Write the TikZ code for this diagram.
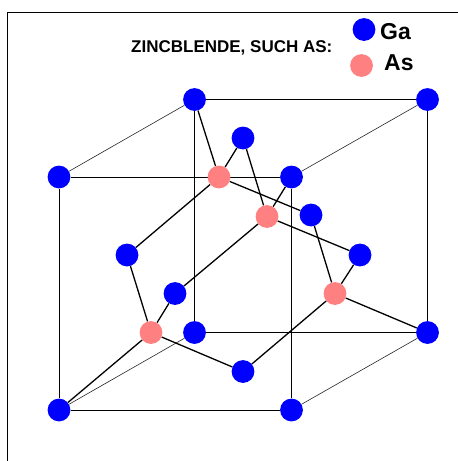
\documentclass[tikz,border=0pt]{standalone}
\usepackage{fontspec}
\setmainfont{Liberation Sans}
\usetikzlibrary{backgrounds}
\definecolor{gablue}{RGB}{0,0,255}
\definecolor{aspink}{RGB}{255,128,128}
\tikzset{
  ga/.style={circle,fill=gablue,draw=none,inner sep=0pt,minimum size=22.8pt},
  as/.style={circle,fill=aspink,draw=none,inner sep=0pt,minimum size=22.8pt},
  bond/.style={draw=black,line width=1.3pt},
  cube/.style={draw=black,line width=0.95pt},
  depth/.style={draw=black!85,line width=0.6pt},
  frameline/.style={draw=black,line width=1pt},
  caption/.style={font=\bfseries\fontsize{17pt}{19pt}\selectfont,inner sep=0pt},
  legend/.style={font=\bfseries\fontsize{23pt}{25pt}\selectfont,inner sep=0pt}
}
\begin{document}
\begin{tikzpicture}[x=1pt,y=-1pt]
\useasboundingbox (0,0) rectangle (458,461);
\coordinate (fa) at (7.5,461);
\coordinate (fb) at (7.5,12.5);
\coordinate (fc) at (458,12.5);
\draw[frameline] (fa) -- (fb) -- (fc);
% cube corners
\node[ga] (btl) at (194.5,99.5) {};
\node[ga] (btr) at (427.5,99.5) {};
\node[ga] (ftl) at (59,177) {};
\node[ga] (ftr) at (291.5,177) {};
\node[ga] (bbl) at (194.5,332.5) {};
\node[ga] (bbr) at (427.5,332.5) {};
\node[ga] (fbl) at (59,410) {};
\node[ga] (fbr) at (291.5,410) {};
% face centres
\node[ga] (g1) at (243,138) {};
\node[ga] (g2) at (311,215) {};
\node[ga] (g3) at (127,255) {};
\node[ga] (g4) at (360,255) {};
\node[ga] (g5) at (175,293.5) {};
\node[ga] (g6) at (243,371.5) {};
% interior
\node[as] (a1) at (219,177) {};
\node[as] (a2) at (267,216.5) {};
\node[as] (a3) at (335,293.5) {};
\node[as] (a4) at (151,332.5) {};
% legend
\node[ga] (lga) at (364,29.5) {};
\node[as] (las) at (361.5,65.5) {};
\node[legend,anchor=base west] (tga) at (380,39.3) {Ga};
\node[legend,anchor=base west] (tas) at (384,70) {As};
\node[caption,anchor=base west] (cap) at (131,52.7) {ZINCBLENDE, SUCH AS:};
\begin{scope}[on background layer]
\draw[cube] (btl) -- (btr) -- (bbr) -- (bbl) -- (btl);
\draw[cube] (ftl) -- (ftr) -- (fbr) -- (fbl) -- (ftl);
\draw[depth] (btl) -- (ftl);
\draw[depth] (btr) -- (ftr);
\draw[depth] (bbl) -- (fbl);
\draw[depth] (bbr) -- (fbr);
\draw[bond] (a1) -- (btl);
\draw[bond] (a1) -- (g1);
\draw[bond] (a1) -- (g3);
\draw[bond] (a1) -- (g2);
\draw[bond] (a2) -- (g1);
\draw[bond] (a2) -- (ftr);
\draw[bond] (a2) -- (g5);
\draw[bond] (a2) -- (g4);
\draw[bond] (a3) -- (g2);
\draw[bond] (a3) -- (g4);
\draw[bond] (a3) -- (g6);
\draw[bond] (a3) -- (bbr);
\draw[bond] (a4) -- (g3);
\draw[bond] (a4) -- (g5);
\draw[bond] (a4) -- (fbl);
\draw[bond] (a4) -- (g6);
\end{scope}
\end{tikzpicture}
\end{document}
